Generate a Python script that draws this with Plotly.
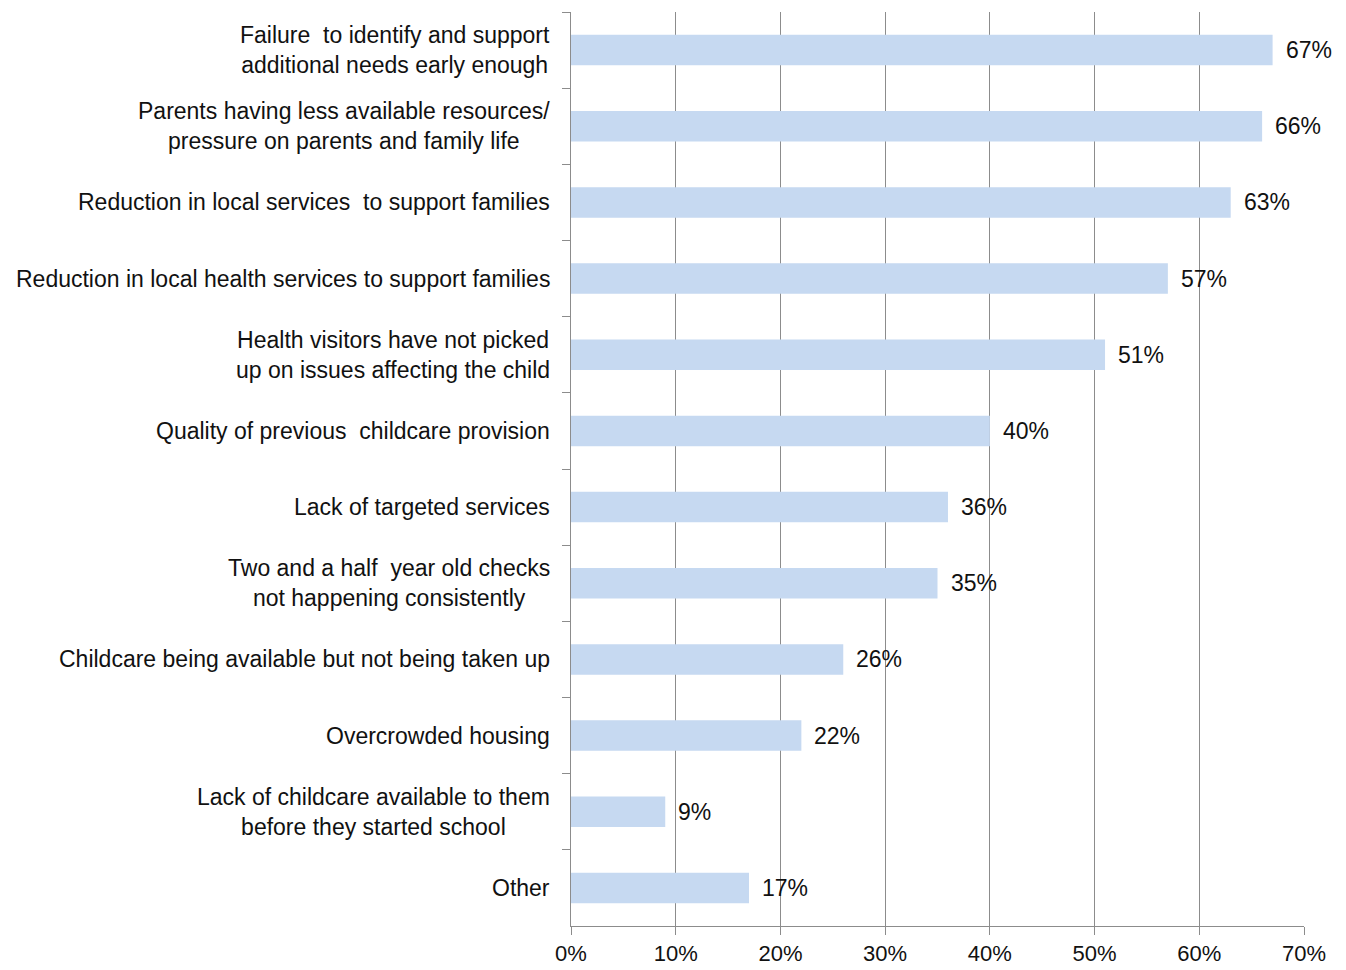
import plotly.graph_objects as go

categories = [
    "Failure  to identify and support<br>additional needs early enough",
    "Parents having less available resources/<br>pressure on parents and family life",
    "Reduction in local services  to support families",
    "Reduction in local health services to support families",
    "Health visitors have not picked<br>up on issues affecting the child",
    "Quality of previous  childcare provision",
    "Lack of targeted services",
    "Two and a half  year old checks<br>not happening consistently",
    "Childcare being available but not being taken up",
    "Overcrowded housing",
    "Lack of childcare available to them<br>before they started school",
    "Other",
]
values = [67, 66, 63, 57, 51, 40, 36, 35, 26, 22, 9, 17]
x_ticks = [0, 10, 20, 30, 40, 50, 60, 70]

FONT = "Liberation Sans, Arial, sans-serif"
TXT = "#111111"
GRID = "#8c8c8c"
FS = 23

fig = go.Figure(
    go.Bar(
        x=values,
        y=categories,
        orientation="h",
        marker=dict(color="#C6D9F1", line=dict(width=0)),
        hoverinfo="skip",
    )
)

annotations = []
# category labels, right-aligned to the axis, lines centred within each label
for cat in categories:
    annotations.append(dict(
        x=0, y=cat, xref="x", yref="y", text=cat, showarrow=False,
        xanchor="right", yanchor="middle", align="center", xshift=-19,
        font=dict(family=FONT, size=FS, color=TXT),
    ))
# value labels just past the end of each bar
for cat, v in zip(categories, values):
    annotations.append(dict(
        x=v, y=cat, xref="x", yref="y", text=f"{v}%", showarrow=False,
        xanchor="left", yanchor="middle", xshift=11,
        font=dict(family=FONT, size=FS, color=TXT),
    ))

fig.update_layout(
    width=1346, height=970,
    margin=dict(l=571, r=42, t=12, b=44, autoexpand=False),
    paper_bgcolor="white", plot_bgcolor="white",
    bargap=0.6,
    showlegend=False,
    annotations=annotations,
    font=dict(family=FONT, size=FS, color=TXT),
)
fig.update_xaxes(
    range=[0, 70], tickvals=x_ticks, ticktext=[f"{t}%" for t in x_ticks],
    showgrid=True, gridcolor=GRID, gridwidth=1,
    showline=True, linecolor=GRID, linewidth=1,
    ticks="outside", ticklen=8, tickcolor=GRID,
    ticklabelstandoff=0, automargin=False,
    zeroline=False,
    tickfont=dict(family=FONT, size=22, color=TXT),
)
fig.update_yaxes(
    autorange="reversed", showticklabels=False, automargin=False,
    showline=True, linecolor=GRID, linewidth=1,
    ticks="outside", ticklen=8, tickcolor=GRID, tickson="boundaries",
    showgrid=False, zeroline=False,
)

fig.write_html("out.html")
